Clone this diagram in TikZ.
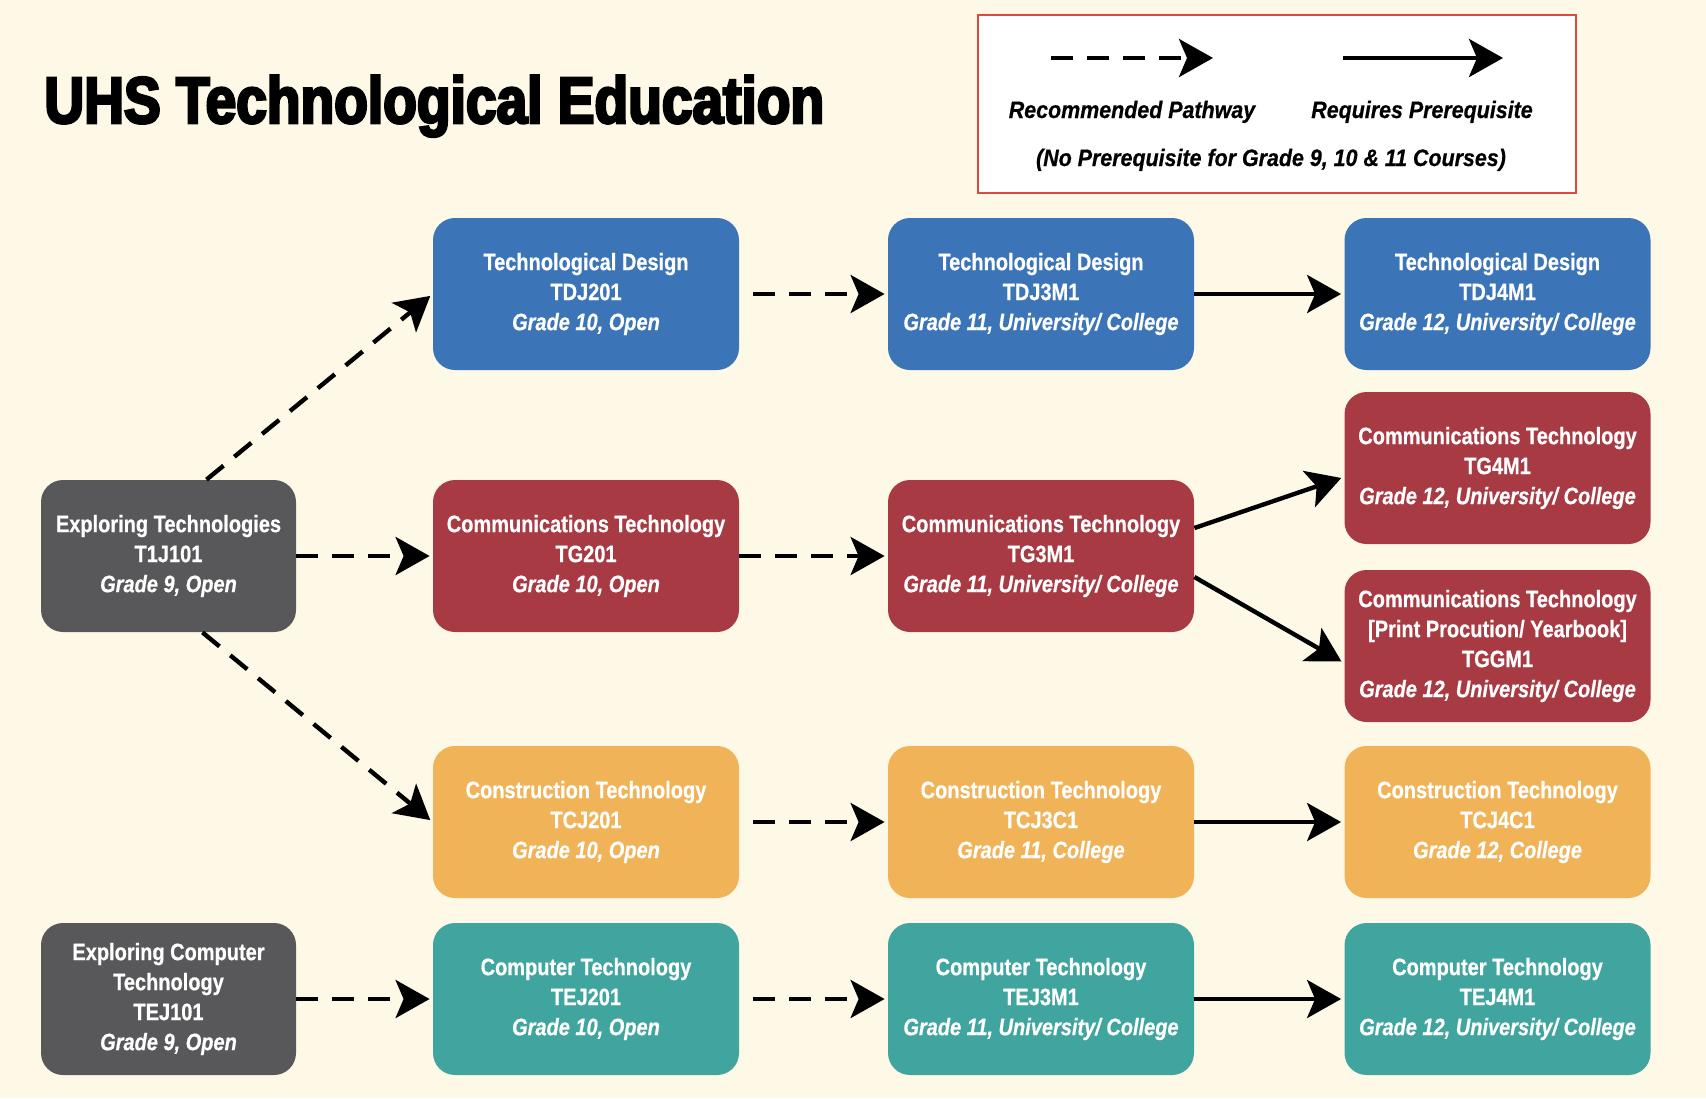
\documentclass[tikz,border=0pt]{standalone}
\usepackage{fontspec}
\setmainfont{Liberation Sans}[FakeStretch=0.84,BoldFeatures={FakeBold=0.6},BoldItalicFeatures={FakeBold=0.6}]
\newfontfamily\titlefont{Liberation Sans}[FakeStretch=0.84,FakeBold=4]
\newfontfamily\legendfont{Liberation Sans}[FakeStretch=0.9,BoldItalicFeatures={FakeBold=0.6}]
\usetikzlibrary{arrows.meta}

\definecolor{bgcream}{HTML}{FEF9E7}
\definecolor{designblue}{HTML}{3B74B7}
\definecolor{commred}{HTML}{A73A43}
\definecolor{constrorange}{HTML}{F0B357}
\definecolor{compteal}{HTML}{41A59F}
\definecolor{introgray}{HTML}{58585B}
\definecolor{legendred}{HTML}{E0483C}

\tikzset{
    course/.style={rounded corners=11pt, inner sep=0pt, minimum width=153pt, minimum height=76pt,
        text=white, align=center, font=\bfseries\fontsize{11.9pt}{15pt}\selectfont},
    intro/.style={course, fill=introgray, minimum width=127.5pt},
    legendtext/.style={font=\legendfont\bfseries\itshape\fontsize{11.9pt}{15pt}\selectfont},
    pathway/.style={line width=2.2pt, dash pattern=on 11pt off 7pt, shorten >=1.5pt,
        -{Stealth[length=17pt,width=19pt,inset=4pt]}},
    prereq/.style={line width=2.2pt, shorten >=1.5pt, -{Stealth[length=17pt,width=19pt,inset=4pt]}}
}

\begin{document}
\begin{tikzpicture}[x=0.5pt, y=-0.5pt]
    \fill[bgcream] (0,0) rectangle (1706,1098);
    \useasboundingbox (0,0) rectangle (1706,1098);

    \node[anchor=base west, inner sep=0pt, font=\titlefont\bfseries\fontsize{32.8pt}{36pt}\selectfont] (title) at (44,123) {UHS Technological Education};

    \node[draw=legendred, fill=white, line width=1.2pt, anchor=north west, inner sep=0pt,
        minimum width=299pt, minimum height=89pt] (legend) at (977,14) {};
    \coordinate (pw1) at (1051,58);
    \coordinate (pw2) at (1216,58);
    \coordinate (rp1) at (1343,58);
    \coordinate (rp2) at (1506,58);
    \draw[pathway] (pw1) -- (pw2);
    \draw[prereq] (rp1) -- (rp2);
    \node[legendtext, anchor=base] (pwtext) at (1132,118) {Recommended Pathway};
    \node[legendtext, anchor=base] (rptext) at (1422,118) {Requires Prerequisite};
    \node[legendtext, anchor=base] (note) at (1271,166) {(No Prerequisite for Grade 9, 10 \& 11 Courses)};

    \node[intro] (ET) at (168.5,556) {Exploring Technologies\\T1J101\\\textit{Grade 9, Open}};
    \node[intro] (ECT) at (168.5,999) {Exploring Computer\\Technology\\TEJ101\\\textit{Grade 9, Open}};

    \node[course, fill=designblue] (TDJ2) at (586,294) {Technological Design\\TDJ201\\\textit{Grade 10, Open}};
    \node[course, fill=designblue] (TDJ3) at (1041,294) {Technological Design\\TDJ3M1\\\textit{Grade 11, University/ College}};
    \node[course, fill=designblue] (TDJ4) at (1497.5,294) {Technological Design\\TDJ4M1\\\textit{Grade 12, University/ College}};

    \node[course, fill=commred] (TGJ2) at (586,556) {Communications Technology\\TG201\\\textit{Grade 10, Open}};
    \node[course, fill=commred] (TGJ3) at (1041,556) {Communications Technology\\TG3M1\\\textit{Grade 11, University/ College}};
    \node[course, fill=commred] (TGJ4) at (1497.5,468) {Communications Technology\\TG4M1\\\textit{Grade 12, University/ College}};
    \node[course, fill=commred] (TGGM) at (1497.5,646) {Communications Technology\\{[}Print Procution/ Yearbook{]}\\TGGM1\\\textit{Grade 12, University/ College}};

    \node[course, fill=constrorange] (TCJ2) at (586,822) {Construction Technology\\TCJ201\\\textit{Grade 10, Open}};
    \node[course, fill=constrorange] (TCJ3) at (1041,822) {Construction Technology\\TCJ3C1\\\textit{Grade 11, College}};
    \node[course, fill=constrorange] (TCJ4) at (1497.5,822) {Construction Technology\\TCJ4C1\\\textit{Grade 12, College}};

    \node[course, fill=compteal] (TEJ2) at (586,999) {Computer Technology\\TEJ201\\\textit{Grade 10, Open}};
    \node[course, fill=compteal] (TEJ3) at (1041,999) {Computer Technology\\TEJ3M1\\\textit{Grade 11, University/ College}};
    \node[course, fill=compteal] (TEJ4) at (1497.5,999) {Computer Technology\\TEJ4M1\\\textit{Grade 12, University/ College}};

    \draw[pathway] ([xshift=19pt]ET.north) -- (TDJ2.west);
    \draw[pathway] (ET.east) -- (TGJ2.west);
    \draw[pathway] ([xshift=17pt]ET.south) -- (TCJ2.west);
    \draw[pathway] (ECT.east) -- (TEJ2.west);
    \draw[pathway, shorten <=7pt] (TDJ2.east) -- (TDJ3.west);
    \draw[pathway] (TGJ2.east) -- (TGJ3.west);
    \draw[pathway, shorten <=7pt] (TCJ2.east) -- (TCJ3.west);
    \draw[pathway, shorten <=7pt] (TEJ2.east) -- (TEJ3.west);
    \draw[prereq] (TDJ3.east) -- (TDJ4.west);
    \draw[prereq] ([yshift=14pt]TGJ3.east) -- ([yshift=-4.5pt]TGJ4.west);
    \draw[prereq] ([yshift=-10.5pt]TGJ3.east) -- ([yshift=-8.5pt]TGGM.west);
    \draw[prereq] (TCJ3.east) -- (TCJ4.west);
    \draw[prereq] (TEJ3.east) -- (TEJ4.west);
\end{tikzpicture}
\end{document}
